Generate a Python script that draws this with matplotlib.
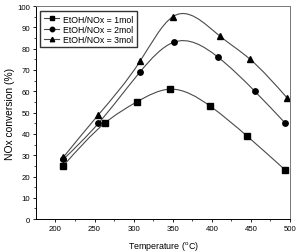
import numpy as np
import matplotlib
matplotlib.use("Agg")
import matplotlib.pyplot as plt
from matplotlib.path import Path
from matplotlib.patches import PathPatch
from matplotlib.lines import Line2D

plt.rcParams['font.family'] = ['Liberation Sans', 'DejaVu Sans']
plt.rcParams['mathtext.fontset'] = 'custom'
plt.rcParams['mathtext.rm'] = 'Liberation Sans'

# Data
temp_1mol = [210, 263, 304, 347, 398, 445, 494]
conv_1mol = [25, 45, 55, 61, 53, 39, 23]
temp_2mol = [210, 255, 308, 351, 408, 455, 494]
conv_2mol = [28, 45, 69, 83, 76, 60, 45]
temp_3mol = [210, 255, 308, 350, 410, 449, 496]
conv_3mol = [29, 49, 74, 95, 86, 75, 57]

labels = ["EtOH/NOx = 1mol", "EtOH/NOx = 2mol", "EtOH/NOx = 3mol"]
markers = ["s", "o", "^"]
LINE_COLOR = "#4a4a4a"


def spline_path(x, y):
    """Natural cubic spline through the points, drawn as bezier segments."""
    x = np.asarray(x, float)
    y = np.asarray(y, float)
    n = len(x)
    h = np.diff(x)
    # solve for second derivatives (natural end conditions)
    A = np.zeros((n, n))
    b = np.zeros(n)
    A[0, 0] = A[-1, -1] = 1.0
    for i in range(1, n - 1):
        A[i, i - 1] = h[i - 1]
        A[i, i] = 2 * (h[i - 1] + h[i])
        A[i, i + 1] = h[i]
        b[i] = 6 * ((y[i + 1] - y[i]) / h[i] - (y[i] - y[i - 1]) / h[i - 1])
    M = np.linalg.solve(A, b)
    slope = np.zeros(n)
    for i in range(n - 1):
        slope[i] = (y[i + 1] - y[i]) / h[i] - h[i] * (2 * M[i] + M[i + 1]) / 6
    slope[-1] = (y[-1] - y[-2]) / h[-1] + h[-1] * (M[-2] + 2 * M[-1]) / 6

    verts = [(x[0], y[0])]
    codes = [Path.MOVETO]
    for i in range(n - 1):
        d = h[i] / 3
        verts += [(x[i] + d, y[i] + slope[i] * d),
                  (x[i + 1] - d, y[i + 1] - slope[i + 1] * d),
                  (x[i + 1], y[i + 1])]
        codes += [Path.CURVE4] * 3
    return Path(verts, codes)


fig = plt.figure(figsize=(2.99, 2.53), dpi=100)
ax = fig.add_axes([0.120, 0.130, 0.850, 0.842])

series = [(temp_1mol, conv_1mol), (temp_2mol, conv_2mol), (temp_3mol, conv_3mol)]
handles = []
for (tx, ty), lab, mk in zip(series, labels, markers):
    ax.add_patch(PathPatch(spline_path(tx, ty), facecolor='none',
                           edgecolor=LINE_COLOR, linewidth=0.8))
    ax.plot(tx, ty, linestyle='none', marker=mk, color='black', markersize=3.9)
    handles.append(Line2D([], [], color=LINE_COLOR, linewidth=0.8, marker=mk,
                          markerfacecolor='black', markeredgecolor='black',
                          markersize=3.2, label=lab))

ax.set_xlim(175, 500)
ax.set_ylim(0, 100)
ax.set_xticks([200, 250, 300, 350, 400, 450, 500])
ax.set_xticks([225, 275, 325, 375, 425, 475], minor=True)
ax.set_yticks(range(0, 101, 10))
ax.set_yticks(range(5, 100, 10), minor=True)
ax.tick_params(axis='both', which='major', direction='out', length=2.5,
               width=0.6, labelsize=5.6, pad=1.5)
ax.tick_params(axis='both', which='minor', direction='out', length=1.5, width=0.5)

for side in ['top', 'right']:
    ax.spines[side].set_color('#777777')
    ax.spines[side].set_linewidth(0.7)
for side in ['left', 'bottom']:
    ax.spines[side].set_color('black')
    ax.spines[side].set_linewidth(0.7)

ax.set_xlabel(r'Temperature ($^{\rm o}$C)', fontsize=6.4, labelpad=5)
ax.set_ylabel('NOx conversion (%)', fontsize=7.4, labelpad=2)

leg = ax.legend(handles=handles, loc='upper left', bbox_to_anchor=(0.01, 0.985),
                fontsize=6.3, frameon=True, fancybox=False, shadow=False,
                handlelength=1.8, handletextpad=0.4, borderpad=0.4,
                labelspacing=0.12, borderaxespad=0.2)
leg.get_frame().set_edgecolor('black')
leg.get_frame().set_linewidth(1.0)

fig.savefig('out.png', dpi=100)
